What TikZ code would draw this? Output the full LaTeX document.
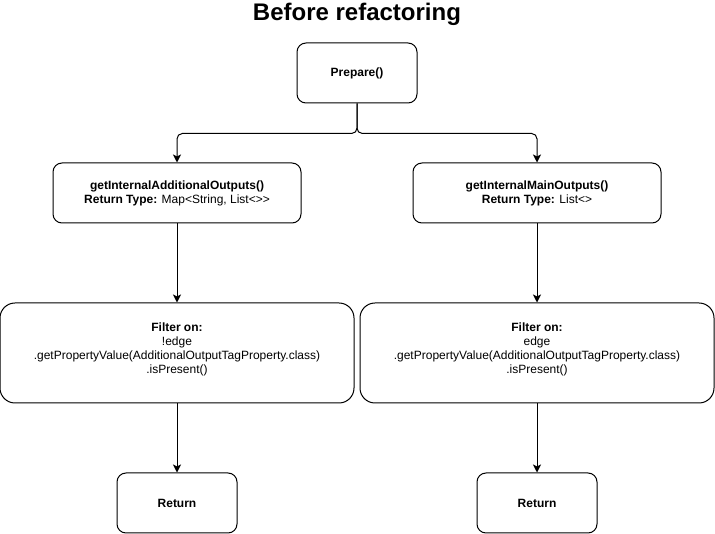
\documentclass[tikz,border=0pt]{standalone}
\usepackage{fontspec}
\setmainfont{Liberation Sans}
\usetikzlibrary{arrows.meta,positioning}

\begin{document}
\begin{tikzpicture}[>={Stealth[length=6pt,width=6pt,inset=1.5pt]},x=0.75pt,y=-0.75pt,line width=0.75pt]
\tikzset{
	box/.style={draw, rounded corners=6.75pt, align=center, inner sep=0pt,
		font=\fontsize{9}{10.5}\selectfont, minimum height=45pt},
	small/.style={box, minimum width=90pt},
	method/.style={box, minimum width=186pt, execute at begin node={\rule{0pt}{11pt}}},
	filter/.style={box, minimum width=265.5pt, minimum height=75pt, rounded corners=11.25pt,
		execute at end node={\rule[-8pt]{0pt}{0pt}}},
}
\useasboundingbox (0,0) rectangle (715,534);
\def\xL{177}
\def\xR{537}

\node[font=\bfseries\fontsize{18}{20}\selectfont] (title) at (357,14) {Before refactoring};

\node[small] (prep) at (357,73) {\textbf{Prepare()}};

\node[method] (addout) at (\xL,193) {\textbf{getInternalAdditionalOutputs()}\\\textbf{Return Type:} Map<String, List<>\kern0pt>};
\node[method] (mainout) at (\xR,193) {\textbf{getInternalMainOutputs()}\\\textbf{Return Type:} List<>};

\node[filter] (filtA) at (\xL,353) {\textbf{Filter on:}\\!edge\\.getPropertyValue(AdditionalOutputTagProperty.class)\\.isPresent()};
\node[filter] (filtB) at (\xR,353) {\textbf{Filter on:}\\edge\\.getPropertyValue(AdditionalOutputTagProperty.class)\\.isPresent()};

\node[small] (retA) at (\xL,503) {\textbf{Return}};
\node[small] (retB) at (\xR,503) {\textbf{Return}};

\draw[->,rounded corners=4pt] (prep.south) -- ++(0,30) -| (addout.north);
\draw[->,rounded corners=4pt] (prep.south) -- ++(0,30) -| (mainout.north);

\foreach \a/\b in {addout/filtA,mainout/filtB,filtA/retA,filtB/retB} {
	\draw[->] (\a) -- (\b);
}

\end{tikzpicture}
\end{document}
